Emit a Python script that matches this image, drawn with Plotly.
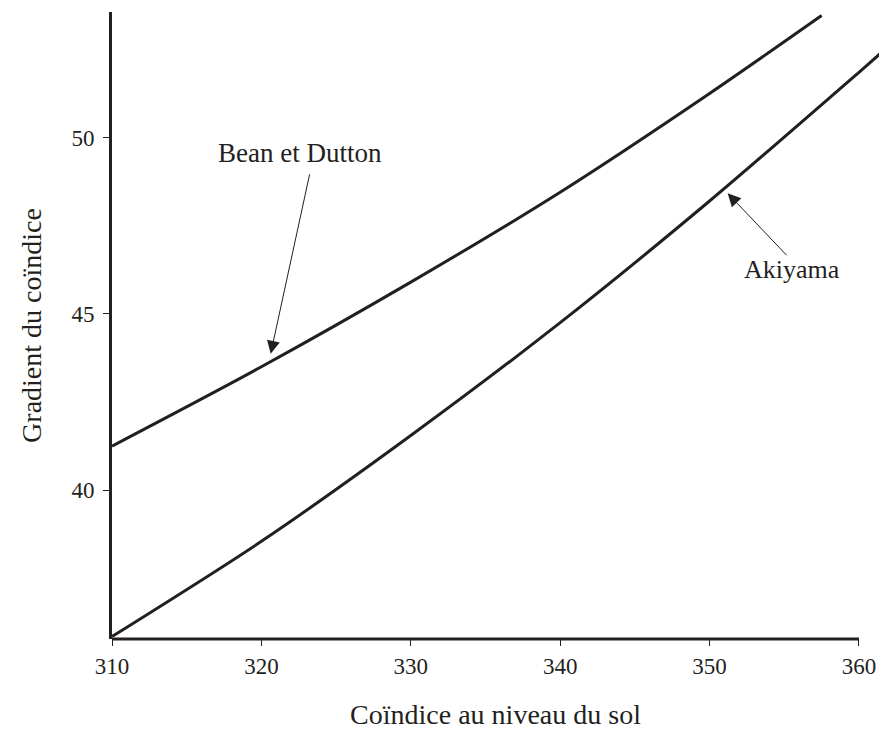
import plotly.graph_objects as go

# Data
bean_x = [310, 320, 330, 340, 350, 357.5]
bean_y = [41.25, 43.5, 45.9, 48.45, 51.25, 53.46]

aki_x = [310, 320, 330, 340, 350, 360, 361.4]
aki_y = [35.85, 38.55, 41.55, 44.75, 48.2, 51.85, 52.37]

x_ticks = [310, 320, 330, 340, 350, 360]
y_ticks = [40, 45, 50]

INK = "#231f20"
FONT = "Liberation Serif, Times New Roman, serif"

fig = go.Figure()
fig.add_trace(go.Scatter(x=bean_x, y=bean_y, mode="lines", name="Bean et Dutton",
                         line=dict(color=INK, width=3, shape="spline", smoothing=0.8),
                         showlegend=False))
fig.add_trace(go.Scatter(x=aki_x, y=aki_y, mode="lines", name="Akiyama",
                         line=dict(color=INK, width=3, shape="spline", smoothing=0.8),
                         showlegend=False))

# x axis line ends at 360 while the Akiyama curve runs on to the edge
fig.add_shape(type="line", xref="x", yref="paper", x0=309.6, x1=360, y0=0, y1=0,
              line=dict(color=INK, width=3))

# Arrows and labels
fig.add_annotation(x=320.62, y=43.87, ax=323.25, ay=49.0, xref="x", yref="y",
                   axref="x", ayref="y", text="", showarrow=True, arrowhead=2,
                   arrowsize=2.6, arrowwidth=1, arrowcolor=INK)
fig.add_annotation(x=322.58, y=49.57, text="Bean et Dutton", showarrow=False,
                   font=dict(family=FONT, size=27, color=INK))
fig.add_annotation(x=351.21, y=48.42, ax=355.25, ay=46.62, xref="x", yref="y",
                   axref="x", ayref="y", text="", showarrow=True, arrowhead=2,
                   arrowsize=2.6, arrowwidth=1, arrowcolor=INK)
fig.add_annotation(x=355.52, y=46.25, text="Akiyama", showarrow=False,
                   font=dict(family=FONT, size=26, color=INK))

fig.update_layout(
    width=879, height=740,
    margin=dict(l=112, r=0, t=12, b=101),
    paper_bgcolor="white", plot_bgcolor="white",
    font=dict(family=FONT, color=INK),
    xaxis=dict(range=[310, 361.34], tickvals=x_ticks, ticktext=[str(v) for v in x_ticks],
               showgrid=False, zeroline=False, showline=False,
               ticks="outside", ticklen=6, tickwidth=1, tickcolor=INK,
               tickfont=dict(family=FONT, size=23, color=INK),
               title=dict(text="Coïndice au niveau du sol", standoff=26,
                          font=dict(family=FONT, size=28, color=INK))),
    yaxis=dict(range=[35.78, 53.56], tickvals=y_ticks, ticktext=[str(v) for v in y_ticks],
               showgrid=False, zeroline=False, showline=True, linecolor=INK, linewidth=3,
               ticks="outside", ticklen=6, tickwidth=1, tickcolor=INK, ticklabelstandoff=4,
               tickfont=dict(family=FONT, size=23, color=INK),
               title=dict(text="Gradient du coïndice", standoff=22,
                          font=dict(family=FONT, size=28, color=INK))),
)

fig.write_html("out.html")
